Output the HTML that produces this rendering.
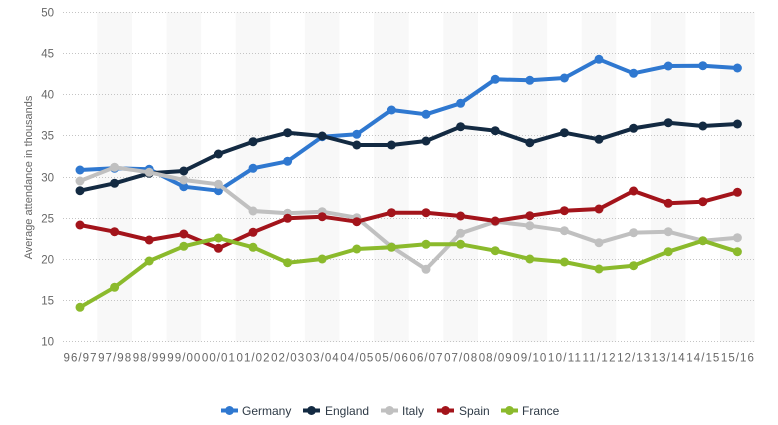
<!DOCTYPE html>
<html><head><meta charset="utf-8"><style>
html,body{margin:0;padding:0;background:#fff;}
svg{display:block;font-family:"Liberation Sans",Arial,sans-serif;}
</style></head><body>
<svg width="778" height="425" viewBox="0 0 778 425" xmlns="http://www.w3.org/2000/svg">
<g fill="#f8f8f8">
<rect x="97.3" y="12" width="34.6" height="330"/>
<rect x="166.5" y="12" width="34.6" height="330"/>
<rect x="235.7" y="12" width="34.6" height="330"/>
<rect x="304.9" y="12" width="34.6" height="330"/>
<rect x="374.1" y="12" width="34.6" height="330"/>
<rect x="443.3" y="12" width="34.6" height="330"/>
<rect x="512.5" y="12" width="34.6" height="330"/>
<rect x="581.7" y="12" width="34.6" height="330"/>
<rect x="650.9" y="12" width="34.6" height="330"/>
<rect x="720.1" y="12" width="34.6" height="330"/>
</g>
<g stroke="#c4c4c4" stroke-width="1" stroke-dasharray="1,2">
<line x1="63" x2="754" y1="12.5" y2="12.5"/>
<line x1="63" x2="754" y1="53.5" y2="53.5"/>
<line x1="63" x2="754" y1="94.5" y2="94.5"/>
<line x1="63" x2="754" y1="135.5" y2="135.5"/>
<line x1="63" x2="754" y1="177.5" y2="177.5"/>
<line x1="63" x2="754" y1="218.5" y2="218.5"/>
<line x1="63" x2="754" y1="259.5" y2="259.5"/>
<line x1="63" x2="754" y1="300.5" y2="300.5"/>
<line x1="63" x2="754" y1="341.5" y2="341.5"/>
</g>
<g fill="#666" font-size="11.5" text-anchor="end">
<text x="54" y="16.5">50</text>
<text x="54" y="57.5">45</text>
<text x="54" y="98.5">40</text>
<text x="54" y="139.5">35</text>
<text x="54" y="181.5">30</text>
<text x="54" y="222.5">25</text>
<text x="54" y="263.5">20</text>
<text x="54" y="304.5">15</text>
<text x="54" y="345.5">10</text>
</g>
<text transform="translate(32,177.5) rotate(-90)" text-anchor="middle" fill="#666" font-size="11">Average attendance in thousands</text>
<g fill="#666" font-size="11.5" text-anchor="middle" lengthAdjust="spacing">
<text x="80" y="361.5" textLength="33">96/97</text>
<text x="114.6" y="361.5" textLength="33">97/98</text>
<text x="149.2" y="361.5" textLength="33">98/99</text>
<text x="183.8" y="361.5" textLength="33">99/00</text>
<text x="218.4" y="361.5" textLength="33">00/01</text>
<text x="253" y="361.5" textLength="33">01/02</text>
<text x="287.6" y="361.5" textLength="33">02/03</text>
<text x="322.2" y="361.5" textLength="33">03/04</text>
<text x="356.8" y="361.5" textLength="33">04/05</text>
<text x="391.4" y="361.5" textLength="33">05/06</text>
<text x="426" y="361.5" textLength="33">06/07</text>
<text x="460.6" y="361.5" textLength="33">07/08</text>
<text x="495.2" y="361.5" textLength="33">08/09</text>
<text x="529.8" y="361.5" textLength="33">09/10</text>
<text x="564.4" y="361.5" textLength="33">10/11</text>
<text x="599" y="361.5" textLength="33">11/12</text>
<text x="633.6" y="361.5" textLength="33">12/13</text>
<text x="668.2" y="361.5" textLength="33">13/14</text>
<text x="702.8" y="361.5" textLength="33">14/15</text>
<text x="737.4" y="361.5" textLength="33">15/16</text>
</g>

<!-- Germany -->
<g fill="#2f78d0">
<polyline fill="none" stroke="#2f78d0" stroke-width="4" stroke-linejoin="round" points="80,170 114.6,168.3 149.2,169.3 183.8,186.7 218.4,190.7 253,168.3 287.6,161.3 322.2,136.7 356.8,134.3 391.4,110 426,114.3 460.6,103.3 495.2,79.3 529.8,80.3 564.4,78 599,59.3 633.6,73.3 668.2,66 702.8,65.7 737.4,68"/>
<circle cx="80" cy="170" r="4.5"/><circle cx="114.6" cy="168.3" r="4.5"/><circle cx="149.2" cy="169.3" r="4.5"/><circle cx="183.8" cy="186.7" r="4.5"/><circle cx="218.4" cy="190.7" r="4.5"/><circle cx="253" cy="168.3" r="4.5"/><circle cx="287.6" cy="161.3" r="4.5"/><circle cx="322.2" cy="136.7" r="4.5"/><circle cx="356.8" cy="134.3" r="4.5"/><circle cx="391.4" cy="110" r="4.5"/><circle cx="426" cy="114.3" r="4.5"/><circle cx="460.6" cy="103.3" r="4.5"/><circle cx="495.2" cy="79.3" r="4.5"/><circle cx="529.8" cy="80.3" r="4.5"/><circle cx="564.4" cy="78" r="4.5"/><circle cx="599" cy="59.3" r="4.5"/><circle cx="633.6" cy="73.3" r="4.5"/><circle cx="668.2" cy="66" r="4.5"/><circle cx="702.8" cy="65.7" r="4.5"/><circle cx="737.4" cy="68" r="4.5"/>
</g>
<!-- England -->
<g fill="#132a42">
<polyline fill="none" stroke="#132a42" stroke-width="4" stroke-linejoin="round" points="80,190.7 114.6,183.3 149.2,173.3 183.8,171 218.4,154 253,141.7 287.6,132.7 322.2,136 356.8,145 391.4,145 426,141 460.6,126.7 495.2,130.7 529.8,142.7 564.4,132.7 599,139.3 633.6,128.3 668.2,122.7 702.8,126 737.4,124"/>
<circle cx="80" cy="190.7" r="4.5"/><circle cx="114.6" cy="183.3" r="4.5"/><circle cx="149.2" cy="173.3" r="4.5"/><circle cx="183.8" cy="171" r="4.5"/><circle cx="218.4" cy="154" r="4.5"/><circle cx="253" cy="141.7" r="4.5"/><circle cx="287.6" cy="132.7" r="4.5"/><circle cx="322.2" cy="136" r="4.5"/><circle cx="356.8" cy="145" r="4.5"/><circle cx="391.4" cy="145" r="4.5"/><circle cx="426" cy="141" r="4.5"/><circle cx="460.6" cy="126.7" r="4.5"/><circle cx="495.2" cy="130.7" r="4.5"/><circle cx="529.8" cy="142.7" r="4.5"/><circle cx="564.4" cy="132.7" r="4.5"/><circle cx="599" cy="139.3" r="4.5"/><circle cx="633.6" cy="128.3" r="4.5"/><circle cx="668.2" cy="122.7" r="4.5"/><circle cx="702.8" cy="126" r="4.5"/><circle cx="737.4" cy="124" r="4.5"/>
</g>
<!-- Italy -->
<g fill="#c0c0c0">
<polyline fill="none" stroke="#c0c0c0" stroke-width="4" stroke-linejoin="round" points="80,181 114.6,167.3 149.2,172.3 183.8,180 218.4,184.3 253,211 287.6,213.3 322.2,211.7 356.8,217.7 391.4,246.7 426,269.3 460.6,233.3 495.2,221.7 529.8,225.7 564.4,230.7 599,242.7 633.6,232.7 668.2,231.7 702.8,240.7 737.4,237.7"/>
<circle cx="80" cy="181" r="4.5"/><circle cx="114.6" cy="167.3" r="4.5"/><circle cx="149.2" cy="172.3" r="4.5"/><circle cx="183.8" cy="180" r="4.5"/><circle cx="218.4" cy="184.3" r="4.5"/><circle cx="253" cy="211" r="4.5"/><circle cx="287.6" cy="213.3" r="4.5"/><circle cx="322.2" cy="211.7" r="4.5"/><circle cx="356.8" cy="217.7" r="4.5"/><circle cx="391.4" cy="246.7" r="4.5"/><circle cx="426" cy="269.3" r="4.5"/><circle cx="460.6" cy="233.3" r="4.5"/><circle cx="495.2" cy="221.7" r="4.5"/><circle cx="529.8" cy="225.7" r="4.5"/><circle cx="564.4" cy="230.7" r="4.5"/><circle cx="599" cy="242.7" r="4.5"/><circle cx="633.6" cy="232.7" r="4.5"/><circle cx="668.2" cy="231.7" r="4.5"/><circle cx="702.8" cy="240.7" r="4.5"/><circle cx="737.4" cy="237.7" r="4.5"/>
</g>
<!-- Spain -->
<g fill="#a3141b">
<polyline fill="none" stroke="#a3141b" stroke-width="4" stroke-linejoin="round" points="80,225 114.6,231.7 149.2,240 183.8,234 218.4,248.3 253,232.3 287.6,218.3 322.2,216.7 356.8,221.7 391.4,212.7 426,212.7 460.6,216 495.2,221 529.8,215.7 564.4,210.7 599,209 633.6,191 668.2,203.3 702.8,201.7 737.4,192.3"/>
<circle cx="80" cy="225" r="4.5"/><circle cx="114.6" cy="231.7" r="4.5"/><circle cx="149.2" cy="240" r="4.5"/><circle cx="183.8" cy="234" r="4.5"/><circle cx="218.4" cy="248.3" r="4.5"/><circle cx="253" cy="232.3" r="4.5"/><circle cx="287.6" cy="218.3" r="4.5"/><circle cx="322.2" cy="216.7" r="4.5"/><circle cx="356.8" cy="221.7" r="4.5"/><circle cx="391.4" cy="212.7" r="4.5"/><circle cx="426" cy="212.7" r="4.5"/><circle cx="460.6" cy="216" r="4.5"/><circle cx="495.2" cy="221" r="4.5"/><circle cx="529.8" cy="215.7" r="4.5"/><circle cx="564.4" cy="210.7" r="4.5"/><circle cx="599" cy="209" r="4.5"/><circle cx="633.6" cy="191" r="4.5"/><circle cx="668.2" cy="203.3" r="4.5"/><circle cx="702.8" cy="201.7" r="4.5"/><circle cx="737.4" cy="192.3" r="4.5"/>
</g>
<!-- France -->
<g fill="#8bba2c">
<polyline fill="none" stroke="#8bba2c" stroke-width="4" stroke-linejoin="round" points="80,307.3 114.6,287.3 149.2,261 183.8,246.3 218.4,238 253,247.3 287.6,262.7 322.2,259 356.8,249 391.4,247.3 426,244.3 460.6,244.3 495.2,250.7 529.8,259 564.4,262 599,269 633.6,265.7 668.2,251.7 702.8,240.7 737.4,251.7"/>
<circle cx="80" cy="307.3" r="4.5"/><circle cx="114.6" cy="287.3" r="4.5"/><circle cx="149.2" cy="261" r="4.5"/><circle cx="183.8" cy="246.3" r="4.5"/><circle cx="218.4" cy="238" r="4.5"/><circle cx="253" cy="247.3" r="4.5"/><circle cx="287.6" cy="262.7" r="4.5"/><circle cx="322.2" cy="259" r="4.5"/><circle cx="356.8" cy="249" r="4.5"/><circle cx="391.4" cy="247.3" r="4.5"/><circle cx="426" cy="244.3" r="4.5"/><circle cx="460.6" cy="244.3" r="4.5"/><circle cx="495.2" cy="250.7" r="4.5"/><circle cx="529.8" cy="259" r="4.5"/><circle cx="564.4" cy="262" r="4.5"/><circle cx="599" cy="269" r="4.5"/><circle cx="633.6" cy="265.7" r="4.5"/><circle cx="668.2" cy="251.7" r="4.5"/><circle cx="702.8" cy="240.7" r="4.5"/><circle cx="737.4" cy="251.7" r="4.5"/>
</g>

<g font-size="12" fill="#2e3a46">
<line x1="221" x2="238" y1="410.5" y2="410.5" stroke="#2f78d0" stroke-width="4"/><circle cx="229.5" cy="410.5" r="4.5" fill="#2f78d0"/>
<text x="242" y="415">Germany</text>
<line x1="303" x2="320" y1="410.5" y2="410.5" stroke="#132a42" stroke-width="4"/><circle cx="311.5" cy="410.5" r="4.5" fill="#132a42"/>
<text x="325" y="415">England</text>
<line x1="381" x2="398" y1="410.5" y2="410.5" stroke="#c0c0c0" stroke-width="4"/><circle cx="389.5" cy="410.5" r="4.5" fill="#c0c0c0"/>
<text x="402" y="415">Italy</text>
<line x1="437" x2="454" y1="410.5" y2="410.5" stroke="#a3141b" stroke-width="4"/><circle cx="445.5" cy="410.5" r="4.5" fill="#a3141b"/>
<text x="459" y="415">Spain</text>
<line x1="501" x2="518" y1="410.5" y2="410.5" stroke="#8bba2c" stroke-width="4"/><circle cx="509.5" cy="410.5" r="4.5" fill="#8bba2c"/>
<text x="522" y="415">France</text>
</g>
</svg>
</body></html>
